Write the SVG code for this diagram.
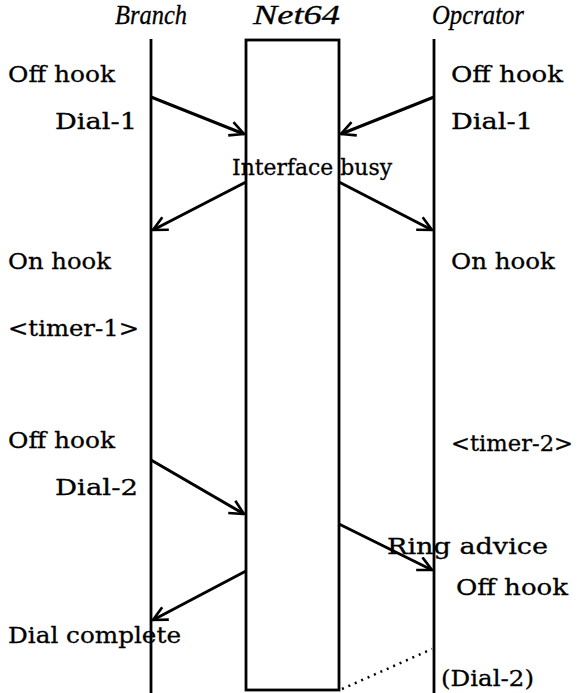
<svg xmlns="http://www.w3.org/2000/svg" width="579" height="693" viewBox="0 0 579 693">
<defs>
<style>
.t{font-family:"DejaVu Serif","Liberation Serif",serif;font-size:23px;fill:#000;stroke:#000;stroke-width:0.3}
.h{font-family:"Liberation Serif","DejaVu Serif",serif;font-size:28px;font-style:italic;fill:#000;stroke:#000;stroke-width:0.3}
.life{stroke:#000;stroke-width:2.8;fill:none}
.msg{stroke:#000;stroke-width:3;fill:none;marker-end:url(#ah)}
.dot{stroke:#000;stroke-width:2.5;fill:none;stroke-dasharray:2 5}
</style>
<marker id="ah" viewBox="0 0 14 14" refX="13" refY="7" markerWidth="5.5" markerHeight="5.5" orient="auto" markerUnits="strokeWidth">
<path d="M1,1 L13,7 L1,13" fill="none" stroke="#000" stroke-width="2.2"/>
</marker>
</defs>
<rect width="579" height="693" fill="#fff"/>
<g id="branch">
<text class="h" x="115" y="24" textLength="72" lengthAdjust="spacingAndGlyphs">Branch</text>
<line class="life" x1="151" y1="39" x2="151" y2="693"/>
</g>
<g id="net64">
<text class="h" x="253" y="24" textLength="87" lengthAdjust="spacingAndGlyphs">Net64</text>
<rect class="life" x="246" y="40" width="93" height="650"/>
</g>
<g id="operator">
<text class="h" x="432" y="24" textLength="92" lengthAdjust="spacingAndGlyphs">Opcrator</text>
<line class="life" x1="434" y1="39" x2="434" y2="693"/>
</g>
<g id="labels">
<text class="t" x="8" y="82" textLength="107" lengthAdjust="spacingAndGlyphs">Off hook</text>
<text class="t" x="55" y="129" textLength="82" lengthAdjust="spacingAndGlyphs">Dial-1</text>
<text class="t" x="451" y="82" textLength="112" lengthAdjust="spacingAndGlyphs">Off hook</text>
<text class="t" x="451" y="129" textLength="82" lengthAdjust="spacingAndGlyphs">Dial-1</text>
<text class="t" x="232" y="175" textLength="160" lengthAdjust="spacingAndGlyphs">Interface busy</text>
<text class="t" x="8" y="269" textLength="103" lengthAdjust="spacingAndGlyphs">On hook</text>
<text class="t" x="451" y="269" textLength="104" lengthAdjust="spacingAndGlyphs">On hook</text>
<text class="t" x="8" y="336" textLength="131" lengthAdjust="spacingAndGlyphs">&lt;timer-1&gt;</text>
<text class="t" x="8" y="448" textLength="107" lengthAdjust="spacingAndGlyphs">Off hook</text>
<text class="t" x="451" y="451" textLength="122" lengthAdjust="spacingAndGlyphs">&lt;timer-2&gt;</text>
<text class="t" x="55" y="495" textLength="83" lengthAdjust="spacingAndGlyphs">Dial-2</text>
<text class="t" x="387" y="554" textLength="161" lengthAdjust="spacingAndGlyphs">Ring advice</text>
<text class="t" x="456" y="595" textLength="112" lengthAdjust="spacingAndGlyphs">Off hook</text>
<text class="t" x="8" y="643" textLength="173" lengthAdjust="spacingAndGlyphs">Dial complete</text>
<text class="t" x="441" y="686" textLength="93" lengthAdjust="spacingAndGlyphs">(Dial-2)</text>
</g>
<g id="connectors">
<line class="msg" x1="151" y1="97" x2="244" y2="134"/>
<line class="msg" x1="434" y1="97" x2="341" y2="134"/>
<line class="msg" x1="246" y1="182" x2="153" y2="230"/>
<line class="msg" x1="339" y1="182" x2="432" y2="230"/>
<line class="msg" x1="151" y1="460" x2="244" y2="514"/>
<line class="msg" x1="339" y1="524" x2="432" y2="570"/>
<line class="msg" x1="246" y1="571" x2="153" y2="620"/>
<line class="dot" x1="342" y1="689" x2="432" y2="649"/>
</g>
</svg>
